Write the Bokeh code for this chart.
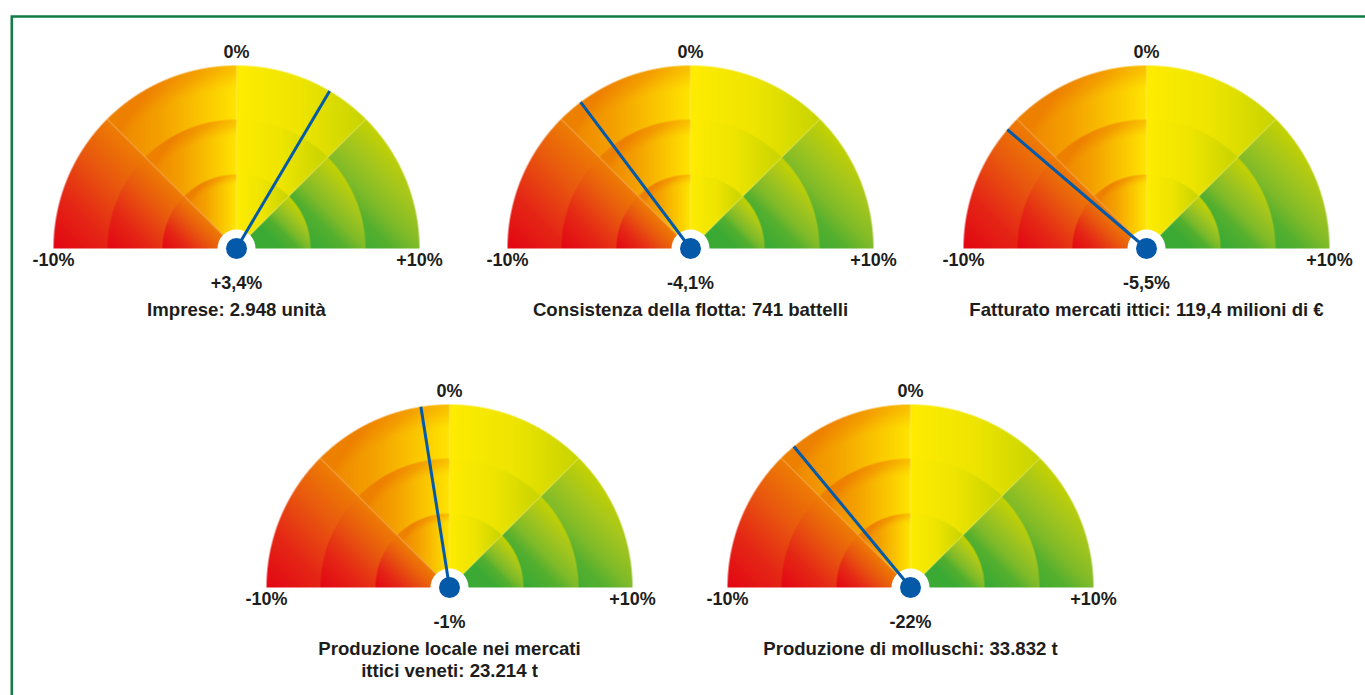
import numpy as np
from bokeh.plotting import figure
from bokeh.models import Range1d
from bokeh.core.properties import value
from bokeh.embed import file_html
from bokeh.resources import INLINE

W, H = 1365, 695

# ---- indicator data -------------------------------------------------------
titles = [
    ["Imprese: 2.948 unità"],
    ["Consistenza della flotta: 741 battelli"],
    ["Fatturato mercati ittici: 119,4 milioni di €"],
    ["Produzione locale nei mercati", "ittici veneti: 23.214 t"],
    ["Produzione di molluschi: 33.832 t"],
]
change_pct = [3.4, -4.1, -5.5, -1.0, -22.0]      # annual change shown under each dial
needle_pct = [3.4, -4.1, -5.5, -1.0, -4.4]       # needle position on the ±10% dial
scale_min, scale_max = -10, 10
scale_labels = ["-10%", "0%", "+10%"]

# ---- layout (screen pixels, y measured downward) -------------------------
centers_x = [236, 690, 1146, 449, 910]
centers_y = [248, 248, 248, 587, 587]
R_OUT, R_MID, R_IN = 183, 129, 74
R_HOLE, R_HUB = 19, 10.5

FONT = value("Liberation Sans")
TXT = "#1d1d1b"
BLUE = "#045aa8"


def fmt_pct(v):
    s = f"{abs(v):.1f}".rstrip("0").rstrip(".").replace(".", ",")
    return ("+" if v > 0 else "-" if v < 0 else "") + s + "%"


# ---- dial face: four 45° sectors per ring, each with its own gradient -----
def ramp(t, stops):
    pos = [s[0] for s in stops]
    out = np.empty(t.shape + (3,))
    for k in range(3):
        out[..., k] = np.interp(t, pos, [s[1][k] for s in stops])
    return out


def smoothstep(a, b, x):
    t = np.clip((x - a) / (b - a), 0, 1)
    return t * t * (3 - 2 * t)


STOPS_A = [(0.0, (227, 6, 19)), (0.35, (229, 40, 22)), (0.7, (233, 90, 14)),
           (1.0, (238, 125, 4)), (1.5, (246, 165, 0))]
STOPS_B = [(0.0, (238, 128, 0)), (0.4, (244, 160, 0)), (0.75, (251, 200, 0)),
           (1.0, (255, 229, 0))]
STOPS_C = [(0.0, (255, 236, 0)), (0.5, (238, 229, 0)), (1.0, (200, 212, 0))]
STOPS_D = [(0.0, (58, 170, 53)), (0.6, (58, 170, 53)), (0.85, (84, 176, 47)),
           (1.0, (128, 187, 41)), (1.2, (164, 198, 30)), (1.42, (198, 211, 0))]


def face_colors(u, v):
    ang = np.degrees(np.arctan2(v, u))
    r = np.hypot(u, v)
    cA = ramp(u + v + 1.0, STOPS_A)
    cB = ramp(u / 0.7071 + 1.0 - 0.3 * smoothstep(0.85, 1.0, r), STOPS_B)
    cC = ramp(u / 0.7071, STOPS_C)
    cD = ramp(u + v, STOPS_D)
    return np.where((ang >= 135)[..., None], cA,
           np.where((ang >= 90)[..., None], cB,
           np.where((ang >= 45)[..., None], cC, cD)))


half = R_OUT + 2
jj, ii = np.meshgrid(np.arange(2 * half), np.arange(half))
dx = jj + 0.5 - half
dy = ii + 0.5
d = np.hypot(dx, dy)

prem = np.zeros(dx.shape + (3,))
alpha = np.zeros(dx.shape)
for rad in (R_OUT, R_MID, R_IN):
    a = np.clip(rad - d + 0.5, 0, 1)
    c = face_colors(dx / rad, dy / rad)
    prem = c * a[..., None] + prem * (1 - a[..., None])
    alpha = a + alpha * (1 - a)
col = prem / np.maximum(alpha, 1e-6)[..., None]

# faint seams between the sectors
for th in np.radians([45, 90, 135]):
    dist = np.abs(dx * np.sin(th) - dy * np.cos(th))
    proj = dx * np.cos(th) + dy * np.sin(th)
    w = 0.35 * np.clip(1 - dist / 0.8, 0, 1) * (proj > 0)
    col = col * (1 - w[..., None]) + 255 * w[..., None]

rgba = np.zeros(dx.shape + (4,), dtype=np.uint8)
rgba[..., :3] = np.clip(col, 0, 255).astype(np.uint8)
rgba[..., 3] = (alpha * 255).astype(np.uint8)
face = rgba.view(np.uint32).reshape(dx.shape)

# ---- figure -----------------------------------------------------------------
p = figure(width=W, height=H, x_range=Range1d(0, W), y_range=Range1d(0, H),
           output_backend="svg", toolbar_location=None, min_border=0)
p.axis.visible = False
p.grid.visible = False
p.outline_line_color = None
p.background_fill_color = "white"
p.border_fill_color = "white"

gx = np.array(centers_x, dtype=float)
gy = H - np.array(centers_y, dtype=float)   # data y grows upward

# frame
p.line([11.3, 11.3, W + 5], [-5, H - 16, H - 16], line_color="#127b46",
       line_width=2.6, line_join="miter")

p.image_rgba(image=[face] * len(gx), x=list(gx - half), y=list(gy),
             dw=2 * half, dh=half)

# white hub ring
p.circle(x=gx, y=gy, radius=R_HOLE, fill_color="white", line_color=None)

# needles
span = (scale_max - scale_min) / 2.0
theta = np.array(needle_pct) / span * (np.pi / 2)
p.segment(x0=gx, y0=gy, x1=gx + R_OUT * np.sin(theta), y1=gy + R_OUT * np.cos(theta),
          line_color=BLUE, line_width=3, line_cap="butt")
p.circle(x=gx, y=gy, radius=R_HUB, fill_color=BLUE, line_color=None)

# scale labels
tx, ty, tt = [], [], []
for x0, y0 in zip(gx, gy):
    tx += [x0 - R_OUT, x0, x0 + R_OUT]
    ty += [y0 - 11, y0 + 197, y0 - 11]
    tt += scale_labels
p.text(x=tx, y=ty, text=tt, text_font=FONT, text_font_style="bold",
       text_font_size="18px", text_align="center", text_baseline="alphabetic",
       text_color=TXT)

# value labels
p.text(x=gx, y=gy - 34, text=[fmt_pct(ch) for ch in change_pct], text_font=FONT,
       text_font_style="bold", text_font_size="18px", text_align="center",
       text_baseline="alphabetic", text_color=TXT)

# indicator titles
vx, vy, vt = [], [], []
for x0, y0, lines in zip(gx, gy, titles):
    for k, line in enumerate(lines):
        vx.append(x0)
        vy.append(y0 - 61 - 21.5 * k)
        vt.append(line)
p.text(x=vx, y=vy, text=vt, text_font=FONT, text_font_style="bold",
       text_font_size="18.6px", text_align="center", text_baseline="alphabetic",
       text_color=TXT)

open("out.html", "w").write(file_html(p, INLINE))
